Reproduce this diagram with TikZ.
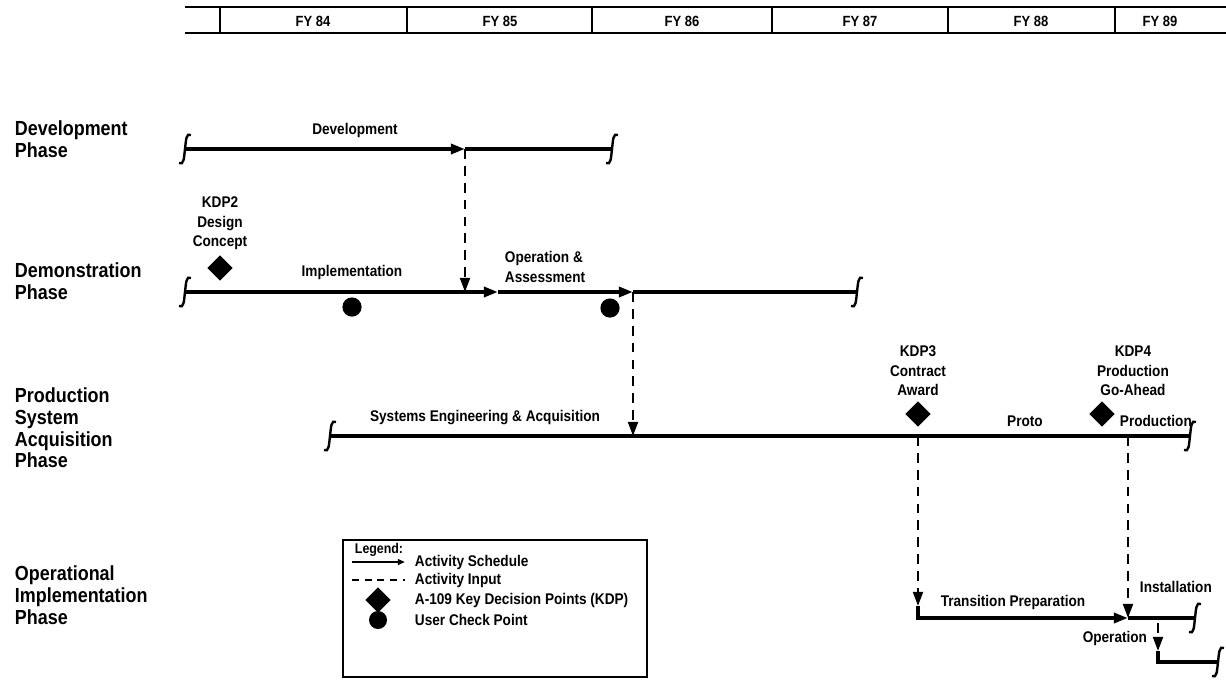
\documentclass[tikz,border=0pt]{standalone}
\usepackage{fontspec}
\setmainfont[FakeStretch=0.88]{Liberation Sans}
\usetikzlibrary{arrows.meta,shapes.geometric,positioning}

\begin{document}
\begin{tikzpicture}[x=0.025cm,y=-0.025cm,>={Triangle[length=10pt,width=7pt]},
      act sched/.style={line width=2.5pt},
      act input/.style={line width=1.7pt,dash pattern=on 7pt off 5pt},
      kdp node/.style={diamond,fill,inner sep=0pt,minimum size=0.64cm},
      check node/.style={circle,fill,inner sep=0pt,minimum size=0.48cm},
      phase/.style={font=\fontsize{14.5}{15.5}\selectfont\bfseries,align=left,anchor=west},
      lbl/.style={font=\fontsize{11}{14}\selectfont\bfseries,align=center},
      leg/.style={font=\fontsize{11}{13}\selectfont\bfseries,anchor=west},
      fy/.style={font=\fontsize{10.5}{12}\selectfont\bfseries},
      brk/.pic={\draw[line width=1.7pt] (-6,14) .. controls (-1,17) and (-1,8) .. (0,0)
                 .. controls (1,-8) and (1,-17) .. (6,-14);}]
      \useasboundingbox (0,0) rectangle (1226,679);

      % fiscal years
      \draw[line width=1.3pt] (185,7) -- (1226,7) (185,33) -- (1226,33);
      \foreach \x in {220,407,592,772,948,1115}
        \draw[line width=1.3pt] (\x,7) -- (\x,33);
      \foreach \x/\y in {313/84,500/85,682/86,860/87,1031/88,1160/89}
        \node[fy] (fy\y) at (\x,21) {FY \y};

      % phases
      \node[phase] (devph) at (10,139) {Development\\Phase};
      \node[phase] (demph) at (10,281) {Demonstration\\Phase};
      \node[phase] (proph) at (10,428) {Production\\System\\Acquisition\\Phase};
      \node[phase] (opph) at (10,595) {Operational\\Implementation\\Phase};

      % schedule points
      \coordinate (d0) at (185,149);
      \coordinate (d1) at (465,149);
      \coordinate (d2) at (612,149);
      \coordinate (m0) at (185,292);
      \coordinate (mx) at (465,292);
      \coordinate (m1) at (498,292);
      \coordinate (m2) at (633,292);
      \coordinate (m3) at (857,292);
      \coordinate (p0) at (330,436);
      \coordinate (p1) at (633,436);
      \coordinate (k3) at (918,436);
      \coordinate (k4) at (1128,436);
      \coordinate (p2) at (1190,436);
      \coordinate (t0) at (918,606);
      \coordinate (o1) at (1128,618);
      \coordinate (o2) at (1195,618);
      \coordinate (u0) at (1158,623);
      \coordinate (u1) at (1158,651);
      \coordinate (q1) at (1218,662);

      \draw[act sched,->] (d0) -- (d1);
      \draw[act sched] (d1) -- (d2);
      \draw[act sched,->] (m0) -- (m1);
      \draw[act sched,->] (m1) -- (m2);
      \draw[act sched] (m2) -- (m3);
      \draw[act sched] (p0) -- (p2);
      \draw[act sched,->] (t0) |- (o1);
      \draw[act sched] (o1) -- (o2);
      \draw[act sched] (u1) |- (q1);

      \draw[act input,->] (d1) -- (mx);
      \draw[act input,->] (m2) -- (p1);
      \draw[act input,->] (k3) -- (t0);
      \draw[act input,->] (k4) -- (o1);
      \draw[act input,->] (u0) -- (u1);

      \foreach \c in {d0,d2,m0,m3,p0,p2,o2,q1}
        \pic at (\c) {brk};

      % decision and check points
      \node[kdp node] (kdp2) at (220,268) {};
      \node[kdp node] (kdp3) at (918,414) {};
      \node[kdp node] (kdp4) at (1102,414) {};
      \node[check node] (ucp1) at (352,307) {};
      \node[check node] (ucp2) at (610,308) {};

      \node[lbl,above=0pt of kdp2] (kdp2t) {KDP2\\Design\\Concept};
      \node[lbl,above=0pt of kdp3] (kdp3t) {KDP3\\Contract\\Award};
      \node[lbl,above=0pt of kdp4,xshift=22] (kdp4t) {KDP4\\Production\\Go-Ahead};

      % activity labels
      \node[lbl] (devt) at (355,130) {Development};
      \node[lbl] (impt) at (352,272) {Implementation};
      \node[lbl,align=left,anchor=west] (oat) at (500,267) {Operation \&\\Assessment};
      \node[lbl] (set) at (485,418) {Systems Engineering \& Acquisition};
      \node[lbl] (prot) at (1025,421) {Proto};
      \node[lbl,anchor=west] (prodt) at (1115,421) {Production};
      \node[lbl] (trt) at (1013,602) {Transition Preparation};
      \node[lbl,anchor=west] (inst) at (1135,587) {Installation};
      \node[lbl,anchor=east] (opt) at (1152,638) {Operation};

      % legend
      \node[draw,line width=1.1pt,inner sep=0pt,minimum width=7.6cm,minimum height=3.425cm] (legend) at (495,608.5) {};
      \node[leg,font=\fontsize{10}{12}\selectfont\bfseries] (lg0) at (350,550) {Legend:};
      \coordinate (la0) at (352,562);
      \coordinate (la1) at (405,562);
      \coordinate (lb0) at (352,580);
      \coordinate (lb1) at (405,580);
      \draw[line width=1.6pt,-{Triangle[length=5pt,width=4pt]}] (la0) -- (la1);
      \draw[line width=1.5pt,dash pattern=on 5pt off 4pt] (lb0) -- (lb1);
      \node[kdp node] (lk) at (378,600) {};
      \node[check node,minimum size=0.45cm] (lc) at (378,620) {};
      \node[leg] (lg1) at (410,562) {Activity Schedule};
      \node[leg] (lg2) at (410,580) {Activity Input};
      \node[leg] (lg3) at (410,600) {A-109 Key Decision Points (KDP)};
      \node[leg] (lg4) at (410,620) {User Check Point};
\end{tikzpicture}
\end{document}
